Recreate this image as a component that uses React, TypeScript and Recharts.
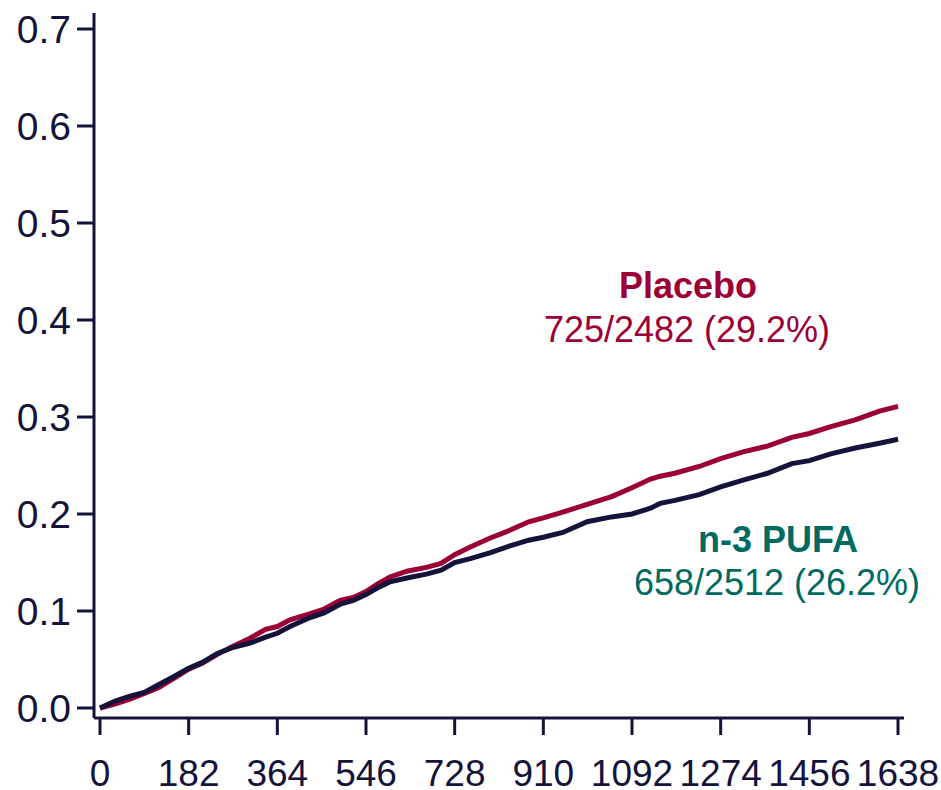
import React from "react";
import { LineChart, Line, XAxis, YAxis, Customized } from "recharts";

const days = [0, 30, 60, 91, 120, 150, 182, 210, 240, 270, 308, 340, 364, 390, 430, 460, 493, 520, 546, 570, 595, 630, 670, 700, 728, 760, 800, 840, 880, 910, 950, 1000, 1050, 1092, 1130, 1150, 1180, 1230, 1274, 1320, 1370, 1420, 1456, 1500, 1550, 1600, 1638];

const placebo = [0.000, 0.004, 0.009, 0.015, 0.021, 0.030, 0.040, 0.046, 0.055, 0.063, 0.072, 0.081, 0.084, 0.091, 0.097, 0.102, 0.111, 0.114, 0.120, 0.128, 0.135, 0.141, 0.145, 0.149, 0.158, 0.166, 0.175, 0.183, 0.192, 0.196, 0.202, 0.210, 0.218, 0.227, 0.236, 0.239, 0.242, 0.249, 0.257, 0.264, 0.270, 0.279, 0.283, 0.290, 0.297, 0.306, 0.311];

const pufa = [0.000, 0.007, 0.012, 0.016, 0.024, 0.032, 0.041, 0.047, 0.056, 0.062, 0.067, 0.073, 0.077, 0.084, 0.093, 0.098, 0.107, 0.111, 0.117, 0.124, 0.130, 0.134, 0.138, 0.142, 0.150, 0.154, 0.160, 0.167, 0.173, 0.176, 0.181, 0.192, 0.197, 0.200, 0.206, 0.211, 0.214, 0.220, 0.228, 0.235, 0.242, 0.252, 0.255, 0.262, 0.268, 0.273, 0.277];

const xTicks = [0, 182, 364, 546, 728, 910, 1092, 1274, 1456, 1638];
const yTicks = [0, 0.1, 0.2, 0.3, 0.4, 0.5, 0.6, 0.7];

const placeboTitle = "Placebo";
const placeboStat = "725/2482 (29.2%)";
const pufaTitle = "n-3 PUFA";
const pufaStat = "658/2512 (26.2%)";

const data = days.map((d, i) => ({ day: d, placebo: placebo[i], pufa: pufa[i] }));

const NAVY = "#14133a";
const RED = "#9b0036";
const TEAL = "#006a61";
const FONT = "'Liberation Sans', Arial, sans-serif";

const Annotations = () => (
  <g fontFamily={FONT}>
    <text x={688} y={298} textAnchor="middle" fontSize={36} fontWeight="bold" fill={RED}>{placeboTitle}</text>
    <text x={687} y={342} textAnchor="middle" fontSize={36} fill={RED}>{placeboStat}</text>
    <text x={778} y={552} textAnchor="middle" fontSize={36} fontWeight="bold" fill={TEAL}>{pufaTitle}</text>
    <text x={777} y={595} textAnchor="middle" fontSize={36} fill={TEAL}>{pufaStat}</text>
  </g>
);

export default function App() {
  return (
    <div style={{ position: "absolute", left: 0, top: 0, background: "#fff" }}>
      <LineChart width={941} height={790} data={data} margin={{ top: 13, right: 37, bottom: 0, left: 0 }}>
        <XAxis
          dataKey="day"
          type="number"
          domain={[-12.3, 1650.3]}
          ticks={xTicks}
          allowDataOverflow
          height={72}
          tickSize={17}
          tickMargin={25}
          stroke={NAVY}
          strokeWidth={3}
          tick={{ fill: NAVY, fontSize: 37, fontFamily: FONT }}
          interval={0}
        />
        <YAxis
          type="number"
          domain={[-0.0103, 0.7165]}
          ticks={yTicks}
          allowDataOverflow
          width={94}
          tickSize={17}
          tickMargin={6}
          stroke={NAVY}
          strokeWidth={3}
          tickFormatter={(v: number) => v.toFixed(1)}
          tick={{ fill: NAVY, fontSize: 39, fontFamily: FONT }}
          interval={0}
        />
        <Line dataKey="placebo" type="linear" stroke={RED} strokeWidth={5} dot={false} isAnimationActive={false} />
        <Line dataKey="pufa" type="linear" stroke={NAVY} strokeWidth={5} dot={false} isAnimationActive={false} />
        <Customized component={Annotations} />
      </LineChart>
    </div>
  );
}
